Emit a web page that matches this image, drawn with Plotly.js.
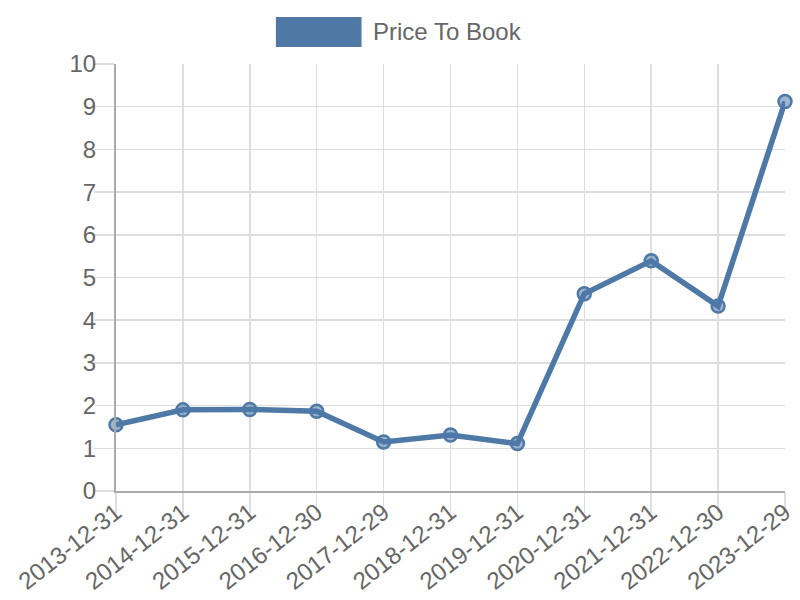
<!DOCTYPE html>
<html>
<head>
<meta charset="utf-8">
<script src="https://cdn.plot.ly/plotly-3.0.1.min.js"></script>
<style>
  html, body { margin: 0; padding: 0; background: #fff; }
  #myDiv { width: 800px; height: 600px; }
</style>
</head>
<body>
<div id="myDiv"></div>
<script>
// dates of each report and the price to book ratio
var dates = ['2013-12-31', '2014-12-31', '2015-12-31', '2016-12-30', '2017-12-29',
             '2018-12-31', '2019-12-31', '2020-12-31', '2021-12-31', '2022-12-30', '2023-12-29'];
var priceToBook = [1.55, 1.90, 1.91, 1.87, 1.15, 1.31, 1.11, 4.62, 5.39, 4.33, 9.12];
var seriesName = 'Price To Book';

var blue = '#4e79a7';
var grid = '#dedede';

var trace1 = {
  x: dates,
  y: priceToBook,
  name: seriesName,
  type: 'scatter',
  mode: 'lines+markers',
  cliponaxis: false,
  line: {color: blue, width: 5.5},
  marker: {
    size: 13,
    color: 'rgba(78,121,167,0.55)',
    line: {color: blue, width: 2.5}
  },
  showlegend: false
};

var layout = {
  width: 800,
  height: 600,
  margin: {l: 116, r: 15, t: 64, b: 109},
  paper_bgcolor: '#fff',
  plot_bgcolor: '#fff',
  font: {family: '"Liberation Sans", Arial, sans-serif', size: 24, color: '#666'},
  showlegend: false,
  xaxis: {
    type: 'category',
    range: [0, dates.length - 1],
    showgrid: true,
    gridcolor: grid,
    gridwidth: 1.5,
    zeroline: false,
    showline: true,
    linecolor: '#aaa',
    linewidth: 2,
    ticks: 'outside',
    ticklen: 20,
    tickcolor: grid,
    tickwidth: 1.5,
    tickangle: -38,
    ticklabelstandoff: -24,
    tickfont: {size: 24, color: '#666'}
  },
  yaxis: {
    range: [0, 10],
    dtick: 1,
    showgrid: true,
    gridcolor: grid,
    gridwidth: 1.5,
    zeroline: false,
    showline: true,
    linecolor: '#aaa',
    linewidth: 2,
    ticks: 'outside',
    ticklen: 20,
    tickcolor: grid,
    tickwidth: 1.5,
    ticklabelstandoff: -7,
    tickfont: {size: 24, color: '#666'}
  },
  // legend drawn by hand to get the wide box swatch
  shapes: [{
    type: 'rect', xref: 'paper', yref: 'paper',
    x0: 0.239, x1: 0.367, y0: 1.040, y1: 1.110,
    fillcolor: blue, line: {width: 0}
  }],
  annotations: [{
    xref: 'paper', yref: 'paper',
    x: 0.381, y: 1.075, xanchor: 'left', yanchor: 'middle',
    text: seriesName, showarrow: false,
    font: {size: 24, color: '#666'}
  }]
};

Plotly.newPlot('myDiv', [trace1], layout, {displayModeBar: false, staticPlot: true});
</script>
</body>
</html>
